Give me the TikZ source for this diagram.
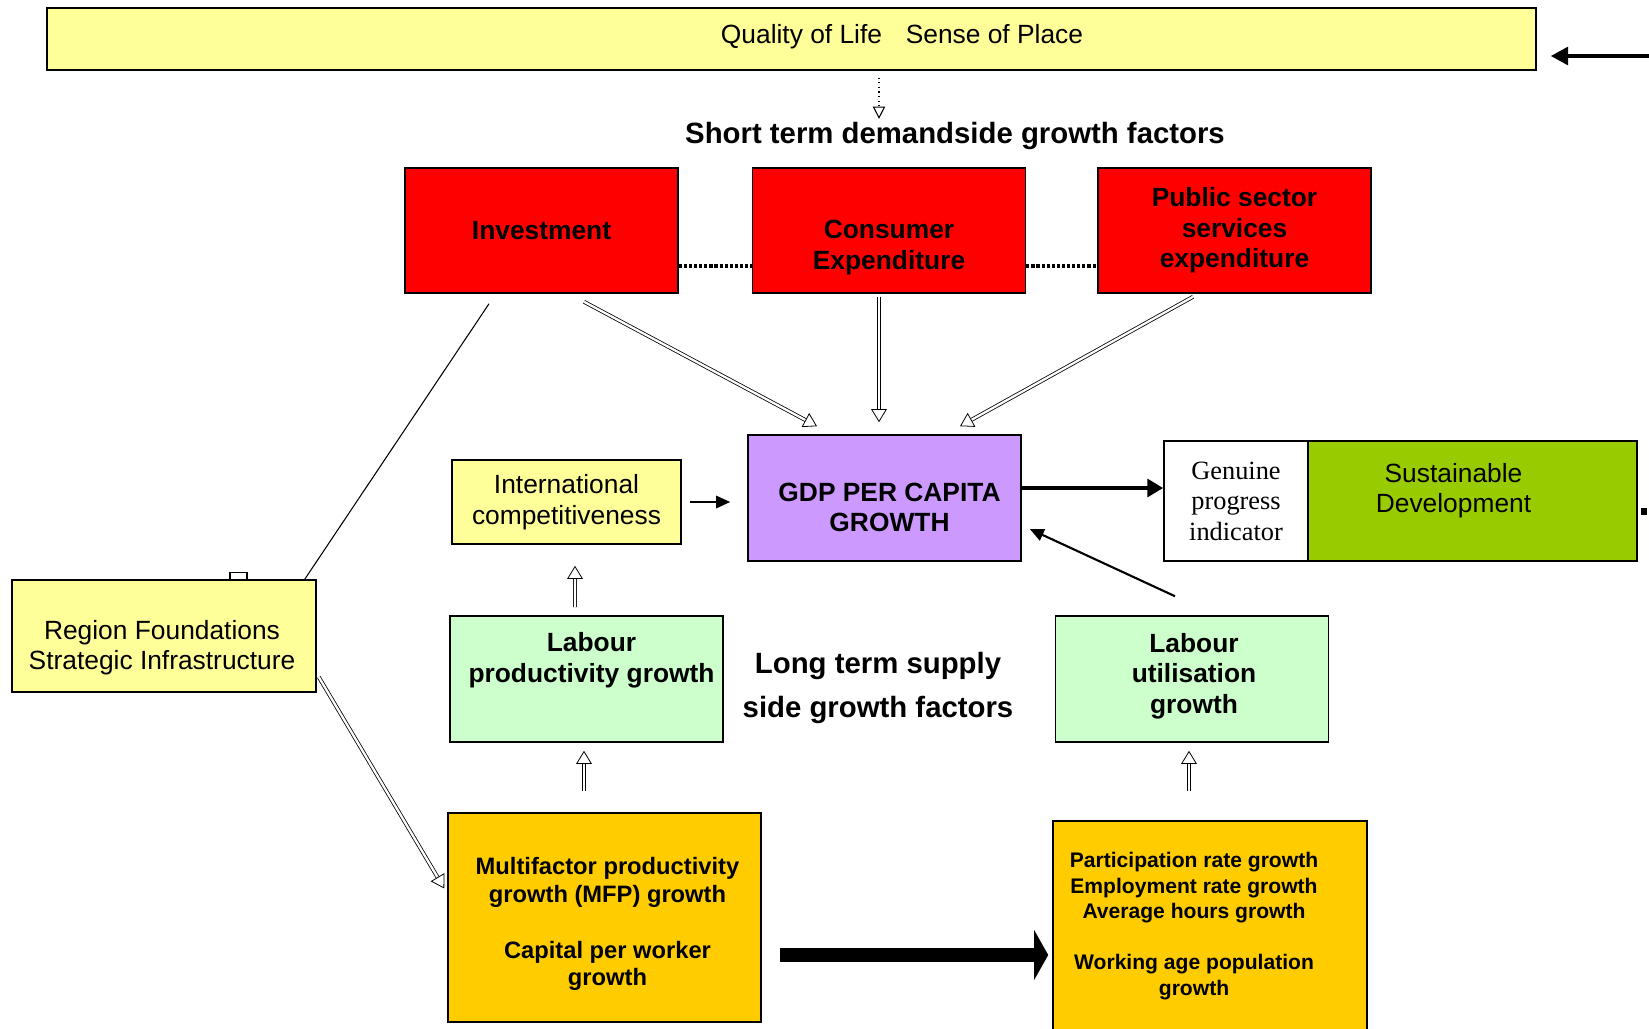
\documentclass[tikz,border=0pt]{standalone}
\usepackage{fontspec}
\setmainfont{Liberation Sans}
\newfontfamily\gpifont{Liberation Serif}
\usepackage{tikz}
\usetikzlibrary{arrows.meta, positioning, calc}
\definecolor{qolyellow}{RGB}{255, 255, 153}
\definecolor{demandred}{RGB}{255, 0, 0}
\definecolor{gdppurple}{RGB}{204, 153, 255}
\definecolor{sdgreen}{RGB}{153, 204, 0}
\definecolor{supplygreen}{RGB}{204, 255, 204}
\definecolor{factororange}{RGB}{255, 204, 0}

\begin{document}
\begin{tikzpicture}[
  x=0.02cm, y=-0.02cm,
  box/.style={draw=black, line width=0.9pt, inner sep=0pt, align=center, font=\fontsize{15}{17.4}\selectfont},
  boxtext/.style={inner sep=0pt, align=center, font=\fontsize{15}{17.4}\selectfont},
  yellowbox/.style={box, fill=qolyellow},
  redbox/.style={box, fill=demandred, font=\fontsize{15}{17.4}\selectfont\bfseries, minimum width=5.46cm, minimum height=2.5cm},
  greenbox/.style={box, fill=supplygreen, font=\fontsize{15}{17.4}\selectfont\bfseries, minimum width=5.46cm, minimum height=2.52cm},
  orangebox/.style={box, fill=factororange},
  heading/.style={font=\fontsize{16.7}{25}\selectfont\bfseries, align=center, inner sep=0pt},
  hollow/.style={double, double distance=1.3pt, line width=0.45pt, -{Triangle[open, length=7.5pt, width=9pt]}},
  dotlink/.style={line width=1.8pt, dash pattern=on 1.8pt off 1.1pt},
  solidarrow/.style={line width=1.2pt, -{Triangle[length=8pt, width=7pt]}},
]
  \useasboundingbox (0,0) rectangle (1649,1028);

  % Top band
  \node[yellowbox, minimum width=29.78cm, minimum height=1.24cm] (qol) at (791.5,39) {};
  \node[boxtext] (qoltext) at (902,37) {Quality of Life\hspace{0.9em}Sense of Place};

  % Demand side
  \node[heading] (shortterm) at (955,136) {Short term demandside growth factors};
  \node[redbox] (inv) at (541.5,230.5) {Investment};
  \node[redbox] (cons) at (889,230.5) {\strut\\Consumer\\Expenditure};
  \node[redbox] (pub) at (1234.5,230.5) {Public sector\\services\\expenditure};

  % Middle row
  \node[box, fill=gdppurple, minimum width=5.46cm, minimum height=2.52cm] (gdp) at (884.5,498) {};
  \node[boxtext, font=\fontsize{15}{17.4}\selectfont\bfseries] (gdptext) at ($(gdp.center)+(5,9.5)$) {GDP PER CAPITA\\GROWTH};
  \node[yellowbox, minimum width=4.58cm, minimum height=1.68cm] (intl) at (566.5,502) {International\\competitiveness};
  \node[box, fill=white, font=\gpifont\fontsize{15}{17.4}\selectfont, minimum width=2.88cm, minimum height=2.4cm] (gpi) at (1236,501) {Genuine\\progress\\indicator};
  \node[box, fill=sdgreen, minimum width=6.58cm, minimum height=2.4cm] (sd) at (1472.5,501) {};
  \node[boxtext] (sdtext) at ($(sd.center)+(-19,-10.5)$) {Sustainable\\Development};
  \node[yellowbox, minimum width=6.08cm, minimum height=2.24cm] (rf) at (164,636) {};
  \node[boxtext] (rftext) at ($(rf.center)+(-2,11.5)$) {Region Foundations\\Strategic Infrastructure};

  % Supply side
  \node[greenbox] (lp) at (586.5,679) {};
  \node[boxtext, font=\fontsize{15}{17.4}\selectfont\bfseries] (lptext) at ($(lp.center)+(5,-19)$) {Labour\\productivity growth};
  \node[greenbox] (lu) at (1192,679) {};
  \node[boxtext, font=\fontsize{15}{17.4}\selectfont\bfseries] (lutext) at ($(lu.center)+(2,-3)$) {Labour\\utilisation\\growth};
  \node[heading] (longterm) at (878,688) {Long term supply\\side growth factors};
  \node[orangebox, minimum width=6.26cm, minimum height=4.18cm] (mfp) at (604.5,917.5) {};
  \node[boxtext, font=\fontsize{13.5}{15.9}\selectfont\bfseries] (mfptext) at ($(mfp.center)+(3,6.5)$) {Multifactor productivity\\growth (MFP) growth\\[15.9pt]Capital per worker\\growth};
  \node[orangebox, minimum width=6.28cm, minimum height=4.38cm] (part) at (1210,930.5) {};
  \node[boxtext, font=\fontsize{12}{14.5}\selectfont\bfseries] (parttext) at ($(part.center)+(-16,-4.5)$) {Participation rate growth\\Employment rate growth\\Average hours growth\\[14.5pt]Working age population\\growth};

  % Connectors
  \coordinate (qolfeed) at (1649,56);
  \draw[line width=2.8pt, -{Triangle[length=10pt, width=10pt]}] (qolfeed) -- ($(qol.east)+(14,17)$);
  \draw[line width=0.6pt, dotted, -{Triangle[open, length=7pt, width=7pt]}] ($(qol.south -| gdp.north)+(-5.5,7)$) -- ($(shortterm.north -| gdp.north)+(-5.5,-3)$);

  \draw[dotlink] ($(inv.east)+(0,35.5)$) -- ($(cons.west)+(0,35.5)$);
  \draw[dotlink] ($(cons.east)+(0,35.5)$) -- ($(pub.west)+(0,35.5)$);

  \draw[hollow] ($(inv.south)+(42.5,8)$) -- ($(gdp.north)+(-67.5,-8)$);
  \draw[hollow] ($(cons.south)+(-10,3)$) -- ($(gdp.north)+(-5.5,-12)$);
  \draw[hollow] ($(pub.south)+(-41.5,3)$) -- ($(gdp.north)+(75.5,-8)$);

  \draw[solidarrow] ($(intl.east)+(8,0)$) -- ($(intl.east -| gdp.west)+(-17,0)$);
  \draw[line width=2.8pt, -{Triangle[length=9pt, width=10pt]}] ($(gdp.east)+(0,-10)$) -- ($(gdp.east -| gpi.west)+(0,-10)$);
  \draw[solidarrow] ($(lu.north)+(-17,-19)$) -- ($(gdp.east)+(8,31)$);

  \draw[line width=0.6pt] ($(rf.north east)+(-12,0)$) -- ($(inv.south)+(-52.5,10)$);
  \draw[line width=0.6pt, fill=white] ($(rf.north)+(66,0)$) rectangle ++(17,-7);
  \draw[hollow] ($(rf.east)+(2,41)$) -- ($(mfp.west)+(-3,-29)$);

  \draw[hollow] ($(lp.north)+(-11.5,-8)$) -- ($(intl.south)+(8.5,21)$);
  \draw[hollow] ($(mfp.north)+(-20.5,-21)$) -- ($(lp.south)+(-2.5,8)$);
  \draw[hollow] ($(part.north)+(-21,-29)$) -- ($(lu.south)+(-3,8)$);

  \draw[line width=8.5pt, -{Triangle[length=8pt, width=28pt]}] ($(mfp.east)+(18,37.5)$) -- ($(part.west)+(-4,24.5)$);

  \fill (1641,508) rectangle (1647,515);
\end{tikzpicture}
\end{document}
